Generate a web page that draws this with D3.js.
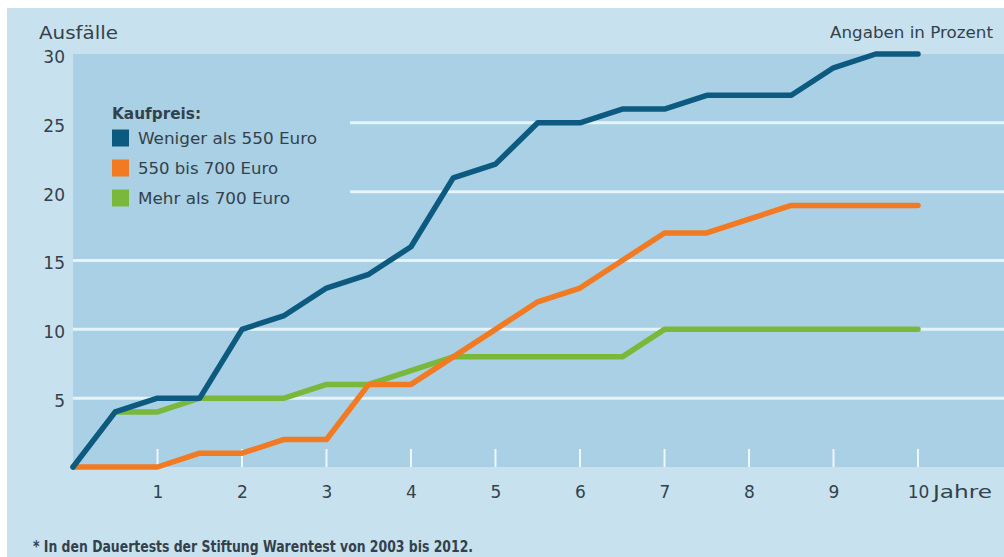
<!DOCTYPE html>
<html>
<head>
<meta charset="utf-8">
<script src="https://cdn.jsdelivr.net/npm/d3@7"></script>
<style>
  html, body { margin: 0; padding: 0; background: #ffffff; }
  svg { display: block; }
</style>
</head>
<body>
<svg id="chart" width="1004" height="557"></svg>
<script>
// Ausfälle nach Kaufpreis, in Prozent, über 10 Jahre (halbjährliche Werte)
const years = [0, 0.5, 1, 1.5, 2, 2.5, 3, 3.5, 4, 4.5, 5, 5.5, 6, 6.5, 7, 7.5, 8, 8.5, 9, 9.5, 10];
const wenigerAls550 = [0, 4, 5, 5, 10, 11, 13, 14, 16, 21, 22, 25, 25, 26, 26, 27, 27, 27, 29, 30, 30];
const von550bis700  = [0, 0, 0, 1, 1, 2, 2, 6, 6, 8, 10, 12, 13, 15, 17, 17, 18, 19, 19, 19, 19];
const mehrAls700    = [null, 4, 4, 5, 5, 5, 6, 6, 7, 8, 8, 8, 8, 8, 10, 10, 10, 10, 10, 10, 10];

const seriesNames = ["Weniger als 550 Euro", "550 bis 700 Euro", "Mehr als 700 Euro"];
const xTicks = [1, 2, 3, 4, 5, 6, 7, 8, 9, 10];
const yTicks = [5, 10, 15, 20, 25, 30];
const gridValues = [5, 10, 15, 20, 25];

const colors = { blue: "#0d5a80", orange: "#f27a22", green: "#7ab83c" };
const textColor = "#34414b";
const fontMain = "'DejaVu Sans', 'Liberation Sans', sans-serif";

const svg = d3.select("#chart");
const W = 1004, H = 557;

// Frame and plot area
const frame = { left: 7, top: 8 };
const plot = { left: 73, top: 54, right: 1004, bottom: 467 };

const x = d3.scaleLinear().domain([0, 10]).range([73, 918]);
const y = d3.scaleLinear().domain([0, 30]).range([plot.bottom, plot.top]);

svg.append("rect")
  .attr("x", frame.left).attr("y", frame.top)
  .attr("width", W - frame.left).attr("height", H - frame.top)
  .attr("fill", "#c8e1ee");

svg.append("rect")
  .attr("x", plot.left).attr("y", plot.top)
  .attr("width", plot.right - plot.left).attr("height", plot.bottom - plot.top)
  .attr("fill", "#a9d0e4");

// Horizontal gridlines
svg.append("g").selectAll("line").data(gridValues).join("line")
  .attr("x1", plot.left).attr("x2", plot.right)
  .attr("y1", d => y(d)).attr("y2", d => y(d))
  .attr("stroke", "#e6f3fa").attr("stroke-width", 3);

// Short year ticks rising from the bottom edge
svg.append("g").selectAll("line").data(xTicks).join("line")
  .attr("x1", d => x(d)).attr("x2", d => x(d))
  .attr("y1", plot.bottom).attr("y2", plot.bottom - 18)
  .attr("stroke", "#eef7fb").attr("stroke-width", 2);

// Legend panel sits over the upper-left gridlines
const legend = svg.append("g");
legend.append("rect")
  .attr("x", plot.left).attr("y", 95)
  .attr("width", 350 - plot.left).attr("height", 120)
  .attr("fill", "#a9d0e4");

// Y axis labels
const yAxis = d3.axisLeft(y).tickValues(yTicks).tickSize(0).tickPadding(0);
const gy = svg.append("g").attr("transform", "translate(65,3)").call(yAxis);
gy.select(".domain").remove();
gy.selectAll("text")
  .attr("fill", textColor)
  .style("font-family", fontMain)
  .style("font-size", "17px");

// X axis labels
const xAxis = d3.axisBottom(x).tickValues(xTicks).tickSize(0).tickPadding(0);
const gx = svg.append("g").attr("transform", "translate(0,486)").call(xAxis);
gx.select(".domain").remove();
gx.selectAll("text")
  .attr("fill", textColor)
  .style("font-family", fontMain)
  .style("font-size", "17px");

svg.append("text")
  .attr("x", 933).attr("y", 498)
  .attr("fill", textColor)
  .style("font-family", fontMain).style("font-size", "17px")
  .attr("textLength", 59).attr("lengthAdjust", "spacingAndGlyphs")
  .text("Jahre");

// Titles
svg.append("text")
  .attr("x", 39).attr("y", 39)
  .attr("fill", textColor)
  .style("font-family", fontMain).style("font-size", "17px")
  .attr("textLength", 79).attr("lengthAdjust", "spacingAndGlyphs")
  .text("Ausfälle");

svg.append("text")
  .attr("x", 993).attr("y", 38)
  .attr("text-anchor", "end")
  .attr("fill", textColor)
  .style("font-family", fontMain).style("font-size", "16px")
  .attr("textLength", 163).attr("lengthAdjust", "spacingAndGlyphs")
  .text("Angaben in Prozent");

// Lines
const line = d3.line()
  .defined(d => d[1] !== null)
  .x(d => x(d[0]))
  .y(d => y(d[1]));

const series = [
  { values: mehrAls700, color: colors.green },
  { values: von550bis700, color: colors.orange },
  { values: wenigerAls550, color: colors.blue }
];

svg.append("g").selectAll("path").data(series).join("path")
  .attr("d", s => line(years.map((t, i) => [t, s.values[i]])))
  .attr("fill", "none")
  .attr("stroke", s => s.color)
  .attr("stroke-width", 5.5)
  .attr("stroke-linejoin", "round")
  .attr("stroke-linecap", "round");

// Legend entries
legend.append("text")
  .attr("x", 112).attr("y", 119)
  .attr("fill", textColor)
  .style("font-family", fontMain).style("font-size", "16px").style("font-weight", "bold")
  .attr("textLength", 89).attr("lengthAdjust", "spacingAndGlyphs")
  .text("Kaufpreis:");

const legendColors = [colors.blue, colors.orange, colors.green];
const legendWidths = [179, 140, 152];
const rows = legend.selectAll("g.row").data(seriesNames).join("g")
  .attr("class", "row")
  .attr("transform", (d, i) => `translate(112,${138 + i * 30})`);
rows.append("rect")
  .attr("x", 0).attr("y", -8.5).attr("width", 17).attr("height", 17)
  .attr("fill", (d, i) => legendColors[i]);
rows.append("text")
  .attr("x", 26).attr("y", 6)
  .attr("fill", textColor)
  .style("font-family", fontMain).style("font-size", "16px")
  .attr("textLength", (d, i) => legendWidths[i]).attr("lengthAdjust", "spacingAndGlyphs")
  .text(d => d);

// Footnote
svg.append("text")
  .attr("x", 33).attr("y", 552)
  .attr("fill", textColor)
  .style("font-family", "'Liberation Sans Narrow', 'DejaVu Sans Condensed', sans-serif")
  .style("font-size", "16px").style("font-weight", "bold")
  .attr("textLength", 440).attr("lengthAdjust", "spacingAndGlyphs")
  .text("* In den Dauertests der Stiftung Warentest von 2003 bis 2012.");
</script>
</body>
</html>
